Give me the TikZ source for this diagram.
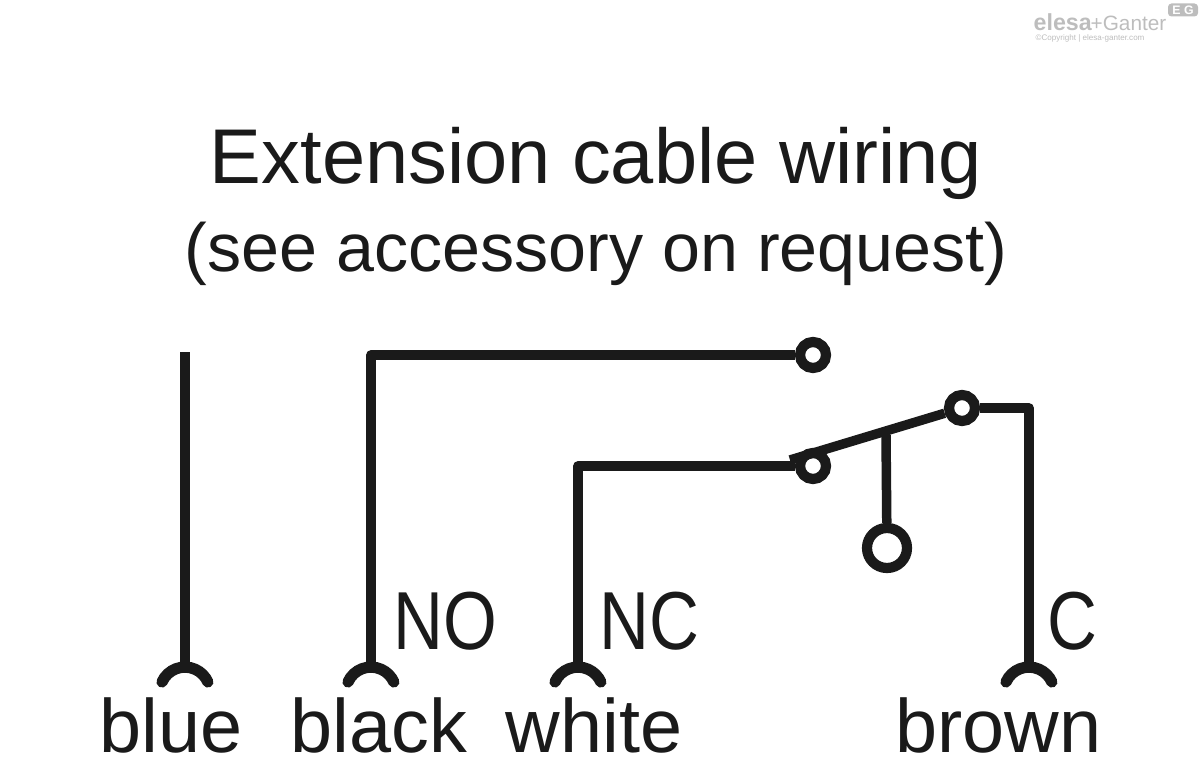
\documentclass[tikz,border=0pt]{standalone}
\usepackage{fontspec}
\setmainfont{Liberation Sans}
\definecolor{wirecol}{HTML}{1A1A1A}
\definecolor{logocol}{HTML}{BDBDBD}
\tikzset{
    wire/.style={draw=wirecol,line width=2.7pt,line join=round},
    pin/.style={circle,draw=wirecol,fill=white,line width=2.9pt,inner sep=0pt,minimum size=0.26cm},
    bigpin/.style={pin,minimum size=0.40cm},
    plug/.style={draw=wirecol,line width=3.2pt,line cap=round},
    title/.style={inner sep=0pt,anchor=base,text=wirecol},
    colorlabel/.style={inner sep=0pt,anchor=base west,text=wirecol,font=\fontsize{21.5}{22}\selectfont},
    contact/.style={inner sep=0pt,anchor=base west,text=wirecol,font=\fontsize{23.4}{24}\selectfont,xscale=0.84},
    logo/.style={inner sep=0pt,anchor=base west,text=logocol}
}
\begin{document}
\begin{tikzpicture}[x=0.01cm,y=-0.01cm]
    \useasboundingbox (0,0) rectangle (1200,758);

    % the logo
    \node[logo,font=\bfseries\fontsize{6.6}{7}\selectfont] (elesa) at (1033,31) {elesa};
    \node[logo,font=\fontsize{5.9}{6}\selectfont] (ganter) at (1090,31) {+Ganter};
    \node[logo,font=\fontsize{2.29}{3}\selectfont] (copy) at (1035,41) {©Copyright | elesa-ganter.com};
    \node[fill=logocol,rounded corners=1pt,inner sep=0pt,minimum width=0.30cm,minimum height=0.13cm,
          text=white,font=\bfseries\fontsize{3.5}{4}\selectfont] (eg) at (1183,10) {E G};

    % the title
    \node[title,font=\fontsize{22.07}{23}\selectfont] (head) at (596,184) {Extension cable wiring};
    \node[title,font=\fontsize{19.4}{20}\selectfont] (sub) at (596,272) {(see accessory on request)};

    % the contacts
    \node[pin] (nopin) at (813,355) {};
    \node[pin] (ncpin) at (813,466) {};
    \node[pin] (compin) at (962,408) {};
    \node[bigpin] (knob) at (887,548) {};

    % the plug ends of the wires
    \foreach \name/\xpos in {blue/185,black/371,white/578,brown/1029} {
        \coordinate (\name end) at (\xpos,667);
        \draw[plug] (\xpos-23,682) arc[start angle=204,end angle=336,radius=25.1];
    }

    % the wires
    \coordinate (bluetop) at (185,352);
    \coordinate (leverend) at (790,460);
    \coordinate (leverjoin) at (886,435);
    \draw[wire] (blueend) -- (bluetop);
    \draw[wire] (blackend) |- (nopin);
    \draw[wire] (whiteend) |- (ncpin);
    \draw[wire] (brownend) |- (compin);
    \draw[wire] (leverend) -- (compin);
    \draw[wire] (leverjoin) -- (knob);

    % the labels, cut off as in the drawing
    \begin{scope}
        \clip (0,0) rectangle (1094,758);
        \node[contact] (nolabel) at (393,649) {NO};
        \node[contact] (nclabel) at (599,649) {NC};
        \node[contact] (clabel) at (1047,649) {C};
    \end{scope}
    \node[colorlabel] (bluelabel) at (99,752) {blue};
    \node[colorlabel] (blacklabel) at (290,752) {black};
    \node[colorlabel] (whitelabel) at (505,752) {white};
    \node[colorlabel] (brownlabel) at (895,752) {brown};
\end{tikzpicture}
\end{document}
